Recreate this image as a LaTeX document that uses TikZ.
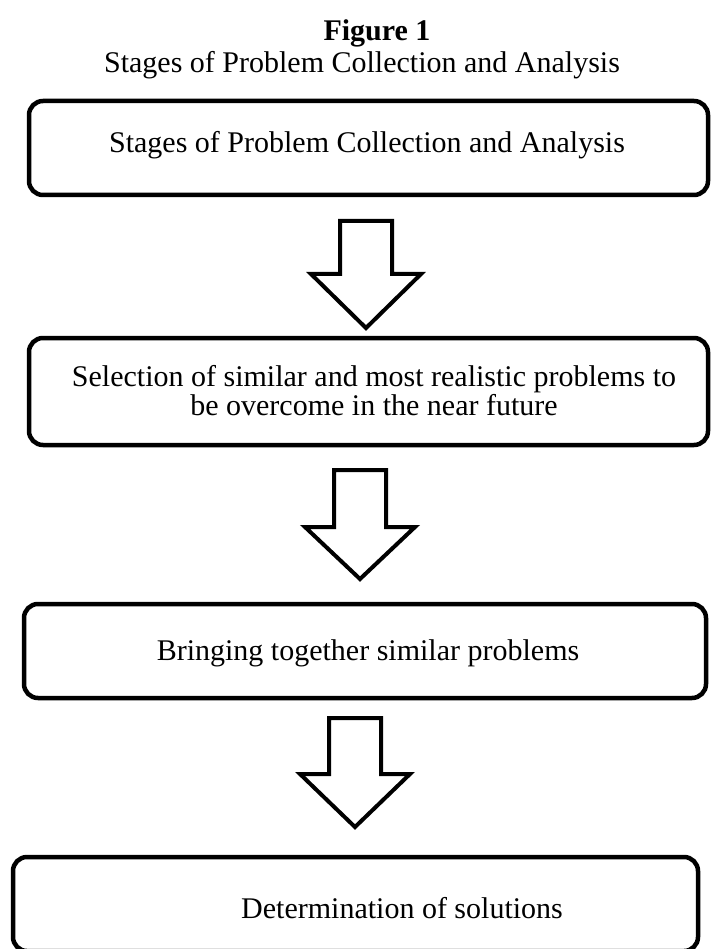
\documentclass[tikz,border=0pt]{standalone}
\usepackage{fontspec}
\setmainfont{Liberation Serif}
\usetikzlibrary{positioning}

\newcommand{\blockarrow}[4]{%
  \draw[block arrow] (#1-26,#2) -- (#1+26,#2) -- (#1+26,#3) -- (#1+55,#3)
    -- (#1,#4) -- (#1-55,#3) -- (#1-26,#3) -- cycle;}

\begin{document}
\begin{tikzpicture}[x=1pt,y=-1pt,
  stage box/.style={draw,line width=4.5pt,rounded corners=14pt,inner sep=0pt},
  stage text/.style={font=\fontsize{30}{29}\selectfont,align=center},
  block arrow/.style={draw,line width=4pt,fill=white,line join=miter}]

  \useasboundingbox (0,0) rectangle (710,949);

  \node[stage text] (fig) at (377,33) {\textbf{Figure 1}};
  \node[stage text] (sub) at (362,65) {Stages of Problem Collection and Analysis};

  \node[stage box,minimum width=679pt,minimum height=94pt] (s1) at (368.5,148) {};
  \node[stage box,minimum width=679pt,minimum height=107pt] (s2) at (368.5,391.5) {};
  \node[stage box,minimum width=682pt,minimum height=94pt] (s3) at (365,651) {};
  \node[stage box,minimum width=685pt,minimum height=94pt] (s4) at (355.5,904) {};

  \node[stage text] (t1) at (367,145) {Stages of Problem Collection and Analysis};
  \node[stage text] (t2) at (374,391) {Selection of similar and most realistic problems to\\be overcome in the near future};
  \node[stage text] (t3) at (368,653) {Bringing together similar problems};
  \node[stage text] (t4) at (402,908) {Determination of solutions};

  \blockarrow{366}{221}{274}{328}
  \blockarrow{360}{470}{527}{579}
  \blockarrow{355}{718}{774}{827}

\end{tikzpicture}
\end{document}
